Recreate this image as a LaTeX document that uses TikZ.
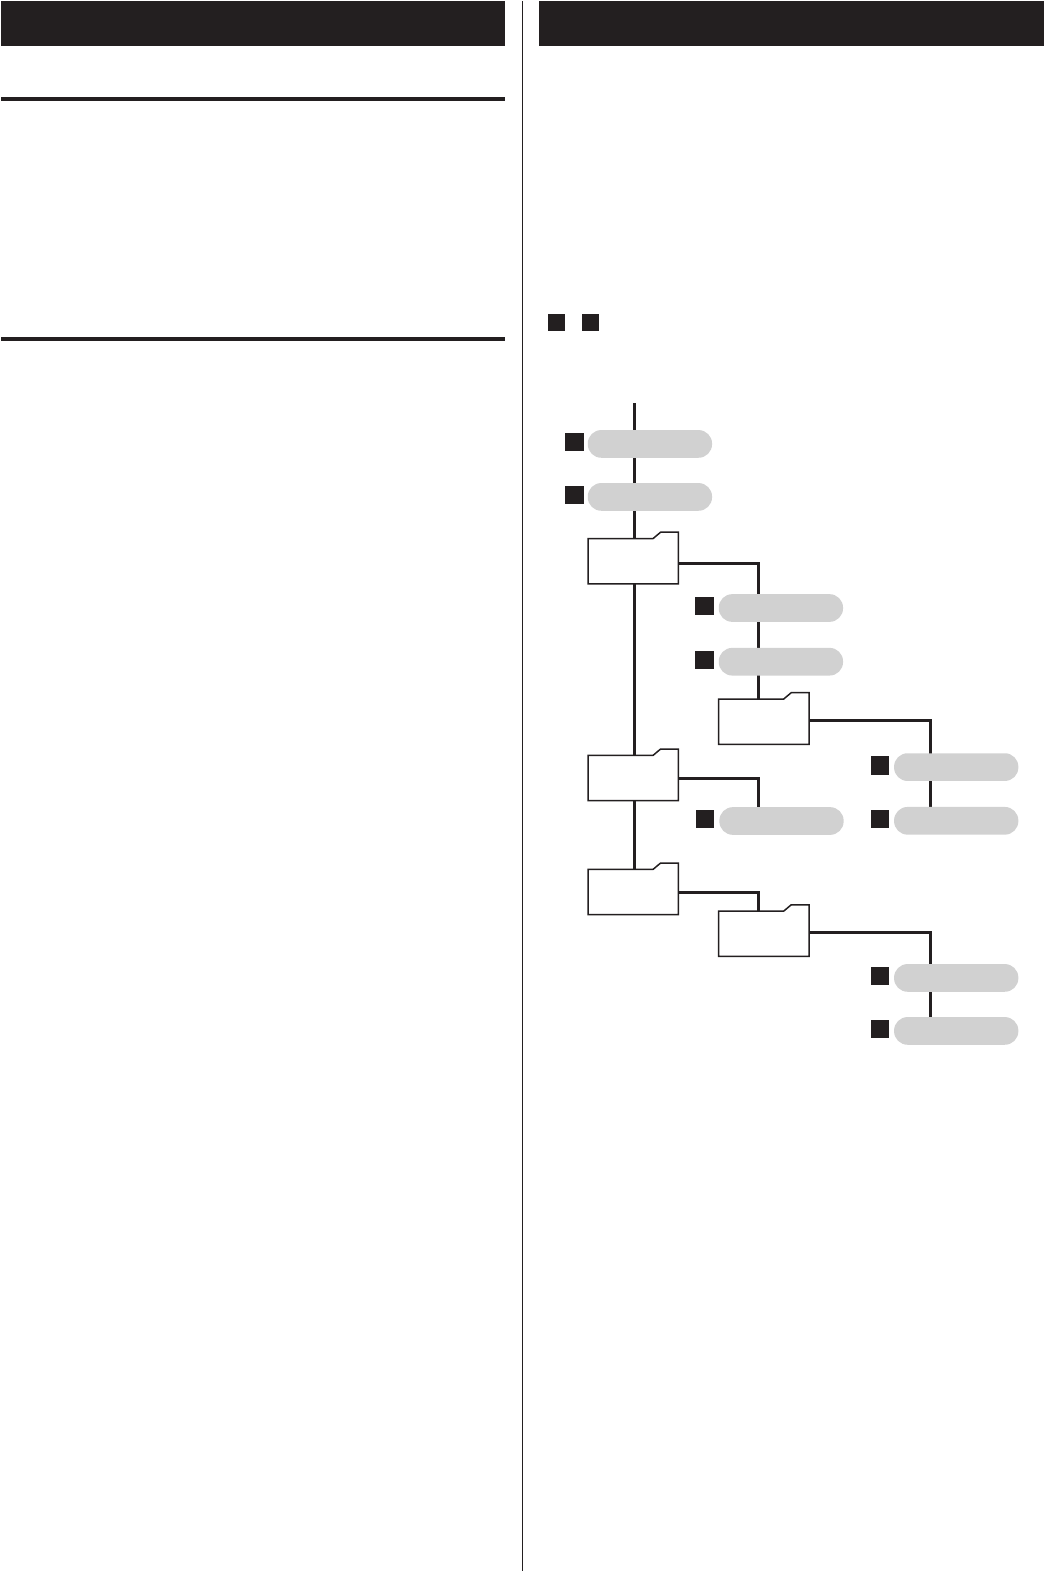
\documentclass[tikz,border=0pt]{standalone}
\usepackage{tikz}
\usetikzlibrary{backgrounds,positioning}
\definecolor{ink}{HTML}{231F20}
\definecolor{pillgrey}{HTML}{D1D1D1}

\begin{document}
\begin{tikzpicture}[x=1pt, y=-1pt, node distance=25.3pt]
  \tikzset{
    solid box/.style={rectangle,fill=ink,inner sep=0pt,outer sep=0pt},
    bar/.style={solid box,minimum width=504pt,minimum height=45pt},
    pagerule/.style={solid box,minimum width=504pt,minimum height=4.4pt},
    pill/.style={rectangle,fill=pillgrey,rounded corners=13.5pt,inner sep=0pt,outer sep=0pt,minimum width=124.3pt,minimum height=27.7pt},
    tick/.style={solid box,minimum size=18.4pt},
    tagged/.style={tick,left=4.9pt of #1,yshift=1.8pt},
    folder/.style={rectangle,fill=white,inner sep=0pt,outer sep=0pt,minimum width=90.4pt,minimum height=45.2pt},
    tree/.style={draw=ink,line width=2.7pt},
    outline/.style={draw=ink,line width=1.5pt,fill=white,line join=miter}
  }
  \useasboundingbox (0,0) rectangle (1044,1571);

  % page furniture
  \node[bar] (barl) at (253,23.5) {};
  \node[bar,minimum width=505pt] (barr) at (791.5,23.5) {};
  \node[pagerule] (rulea) at (253,99) {};
  \node[pagerule] (ruleb) at (253,338.7) {};
  \node[solid box,minimum width=1.3pt,minimum height=1570pt] (divider) at (522.5,786) {};
  \node[tick,minimum size=17pt] (keya) at (556.5,322.5) {};
  \node[tick,minimum size=17pt] (keyb) at (590.5,322.5) {};

  % folders
  \node[folder] (fa) at (633.2,561.2) {};
  \node[folder] (fb) at (763.8,721.7) {};
  \node[folder] (fc) at (633.2,778) {};
  \node[folder] (fd) at (633.2,892) {};
  \node[folder] (fe) at (763.8,933.8) {};

  % tracks
  \node[pill] (pa) at (649.9,443.9) {};
  \node[pill, below=of pa] (pb) {};
  \node[pill] (pc) at (780.9,608) {};
  \node[pill, below=26pt of pc] (pd) {};
  \node[pill] (pm) at (781.5,821) {};
  \node[pill] (pe) at (956.2,767.1) {};
  \node[pill, below=26pt of pe] (pf) {};
  \node[pill] (pg) at (956.2,977.9) {};
  \node[pill, below=of pg] (ph) {};

  % squares in front of the tracks
  \foreach \p/\d in {pa/.8,pb/.8,pc/0,pd/0,pm/0,pe/0,pf/0,pg/0,ph/0}
    \node[tagged=\p,xshift=\d pt] (s\p) {};

  % corners of the tree
  \coordinate (top) at (634.3,403);
  \coordinate (ba) at (758.5,563.3);
  \coordinate (bb) at (930.3,720.3);
  \coordinate (bc) at (758.5,778.3);
  \coordinate (bd) at (758.5,892.8);
  \coordinate (be) at (930.3,932.3);

  \begin{scope}[on background layer]
    \draw[tree] (top) -- (top |- fd.north);
    \draw[tree] (ba -| fa.east) -- (ba) -- (ba |- fb.north);
    \draw[tree] (bb -| fb.east) -- (bb) -- (bb |- pf.north);
    \draw[tree] (bc -| fc.east) -- (bc) -- (bc |- pm.north);
    \draw[tree] (bd -| fd.east) -- (bd) -- (bd |- fe.north);
    \draw[tree] (be -| fe.east) -- (be) -- (be |- ph.north);
  \end{scope}

  \foreach \f in {fa,fb,fc,fd,fe}
    \draw[outline] (\f.south west) -- (\f.north west) -- ([xshift=65pt]\f.north west)
      -- ([xshift=72.6pt,yshift=6.4pt]\f.north west) -- ([yshift=6.4pt]\f.north east)
      -- (\f.south east) -- cycle;
\end{tikzpicture}
\end{document}
